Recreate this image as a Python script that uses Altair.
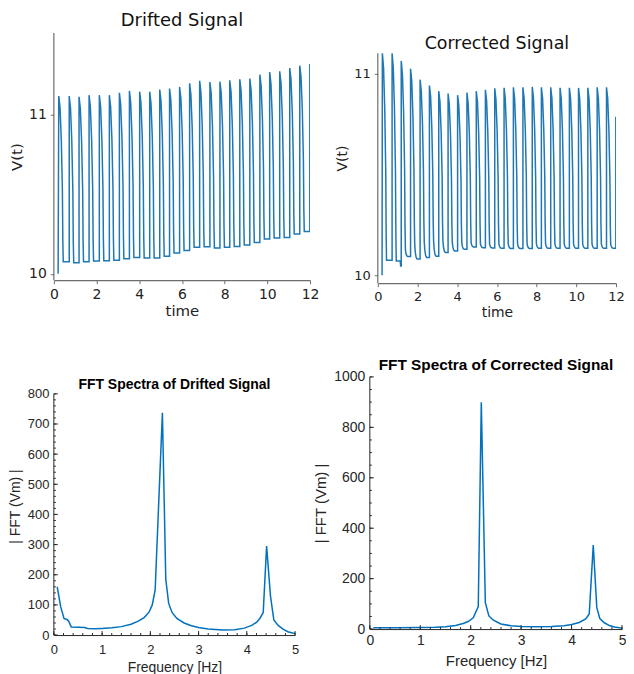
import altair as alt
import pandas as pd

# ---------------- data ----------------
# rise (spike onset) times, shared by both time traces; last entry is the final rise at the end
rise_t = [0.23, 0.72, 1.18, 1.65, 2.13, 2.60, 3.07, 3.54, 4.02, 4.49, 4.96, 5.42, 5.89,
          6.36, 6.83, 7.31, 7.78, 8.24, 8.71, 9.18, 9.65, 10.11, 10.58, 11.05, 11.52, 11.99]

drift_start = (0.20, 10.0)
drift_peak = [11.115, 11.115, 11.11, 11.12, 11.12, 11.12, 11.135, 11.147, 11.142, 11.142, 11.156,
              11.162, 11.172, 11.195, 11.21, 11.203, 11.205, 11.214, 11.22, 11.224, 11.249, 11.265,
              11.27, 11.29, 11.305, 11.315]
drift_base = [10.075, 10.069, 10.075, 10.08, 10.082, 10.085, 10.094, 10.102, 10.1, 10.1, 10.11,
              10.13, 10.146, 10.166, 10.17, 10.162, 10.166, 10.172, 10.181, 10.197, 10.218, 10.225,
              10.228, 10.249, 10.266]

corr_start = (0.215, 10.0)
corr_peak = [11.10, 11.10, 11.062, 11.023, 10.969, 10.94, 10.912, 10.9, 10.892, 10.905, 10.912,
             10.919, 10.926, 10.929, 10.931, 10.931, 10.933, 10.931, 10.931, 10.929, 10.929, 10.928,
             10.929, 10.931, 10.931, 10.785]
corr_knee = [10.074, 10.07, 10.125, 10.15, 10.165, 10.17, 10.17, 10.165, 10.16, 10.16, 10.155,
             10.155, 10.155, 10.155, 10.155, 10.155, 10.155, 10.155, 10.155, 10.155, 10.155, 10.155,
             10.155, 10.155, 10.155]
corr_base = [10.074, 10.07, 10.092, 10.08, 10.088, 10.094, 10.112, 10.12, 10.128, 10.14, 10.136,
             10.135, 10.133, 10.132, 10.132, 10.132, 10.133, 10.133, 10.133, 10.133, 10.133, 10.133,
             10.133, 10.133, 10.133]
corr_end = [10.074, 10.045, 10.092, 10.08, 10.088, 10.094, 10.112, 10.12, 10.128, 10.14, 10.136,
            10.135, 10.133, 10.132, 10.132, 10.132, 10.133, 10.133, 10.133, 10.133, 10.133, 10.133,
            10.133, 10.133, 10.133]

# shape of one spike (offset after onset, fraction of height)
decay_dt = [0.0, 0.06, 0.12, 0.17, 0.19, 0.21]
decay_frac = [1.0, 0.93, 0.73, 0.43, 0.13, 0.0]
foot_dt = [0.03, 0.07, 0.12]
foot_frac = [0.45, 0.12, 0.0]

# FFT spectra
drift_f = [0.07, 0.14, 0.21, 0.28, 0.31, 0.36, 0.5, 0.64, 0.7, 0.85, 1.0, 1.2, 1.4, 1.6, 1.75,
           1.87, 1.97, 2.04, 2.1, 2.25, 2.32, 2.38, 2.45, 2.55, 2.7, 2.85, 3.0, 3.2, 3.5, 3.75,
           3.95, 4.1, 4.2, 4.27, 4.34, 4.41, 4.49, 4.56, 4.65, 4.75, 4.85, 4.95, 5.0]
drift_a = [160, 95, 55, 51, 45, 27, 26, 25, 22, 21, 22, 24, 28, 36, 46,
           58, 75, 100, 150, 737, 185, 105, 75, 55, 40, 31, 25, 20, 17, 18,
           23, 32, 42, 55, 75, 295, 130, 50, 32, 20, 11, 7, 6]
corr_f = [0.07, 0.5, 1.0, 1.3, 1.5, 1.7, 1.85, 1.95, 2.05, 2.15, 2.21, 2.29, 2.36, 2.45, 2.6,
          2.8, 3.0, 3.3, 3.6, 3.85, 4.0, 4.15, 4.28, 4.35, 4.43, 4.5, 4.56, 4.65, 4.75, 4.85,
          4.95, 5.0]
corr_a = [5, 5, 6, 7, 9, 14, 22, 30, 45, 89, 899, 105, 52, 35, 20,
          13, 10, 9, 10, 13, 18, 26, 40, 60, 333, 85, 42, 25, 14, 8,
          5, 4]


def build_trace(start, peaks, knees, bases, ends):
    pts = [start]
    n = len(bases)
    for i in range(n):
        t0, p, k, b = rise_t[i], peaks[i], knees[i], bases[i]
        for dt, fr in zip(decay_dt, decay_frac):
            pts.append((t0 + dt, k + fr * (p - k)))
        tk = t0 + decay_dt[-1]
        if k != b:
            for dt, fr in zip(foot_dt, foot_frac):
                pts.append((tk + dt, b + fr * (k - b)))
        t1 = rise_t[i + 1]
        if ends[i] != b:
            pts.append((t1 - 0.05, b))
            pts.append((t1 - 0.03, ends[i]))
        pts.append((t1, ends[i]))
    pts.append((rise_t[-1], peaks[-1]))
    return pd.DataFrame({"t": [q[0] for q in pts], "v": [q[1] for q in pts],
                         "i": list(range(len(pts)))})


df_drift = build_trace(drift_start, drift_peak, drift_base, drift_base, drift_base)
df_corr = build_trace(corr_start, corr_peak, corr_knee, corr_base, corr_end)

MPL_FONT = "DejaVu Sans"
ML_FONT = "Liberation Sans"
MPL_AX = "#6e6e6e"


def time_panel(df, ydom, yspan, w, h, title, tsize, lsize, ticksz, toff=2, tdy=0):
    """yspan: the part of the y range where the left spine is drawn"""
    axis_common = dict(grid=False, domainColor=MPL_AX, domainWidth=1.2, tickColor=MPL_AX,
                       tickSize=3.5, tickWidth=1, labelFont=MPL_FONT, labelFontSize=ticksz,
                       labelColor="#222222", titleFont=MPL_FONT, titleFontSize=lsize,
                       titleFontWeight="normal", titleColor="#222222", labelFlush=False,
                       labelOverlap=False, labelPadding=4)
    xaxis = alt.Axis(values=[0, 2, 4, 6, 8, 10, 12], title="time", titlePadding=2, **axis_common)
    yaxis = alt.Axis(values=[10, 11], format="d", title="V(t)", titlePadding=4,
                     **dict(axis_common, domain=False))
    xs = alt.Scale(domain=[0, 12], nice=False, zero=False)
    ys = alt.Scale(domain=ydom, nice=False, zero=False)
    line = alt.Chart(df).mark_line(color="#1f77b4", strokeWidth=1.5, clip=True).encode(
        x=alt.X("t:Q", scale=xs, axis=xaxis),
        y=alt.Y("v:Q", scale=ys, axis=yaxis),
        order="i:Q",
    )
    spine = alt.Chart(pd.DataFrame({"v": [yspan[0]], "v2": [yspan[1]]})).mark_rule(
        color=MPL_AX, strokeWidth=1.2).encode(
        x=alt.value(0), y=alt.Y("v:Q", scale=ys, axis=yaxis), y2="v2:Q")
    tparams = alt.TitleParams(title, font=MPL_FONT, fontSize=tsize, fontWeight="normal",
                              anchor="middle", color="#111111", offset=toff, dy=tdy)
    return alt.layer(line, spine).properties(width=w, height=h, title=tparams)


def fft_panel(freq, amp, ydom, ytop, ymajor, yminor, w, h, title, tsize, lsize, ticksz,
              toff=5, tdy=0, lpad=5, tpad=5):
    xmajor = [0, 1, 2, 3, 4, 5]
    xminor = [round(0.2 * k, 1) for k in range(26)]
    df = pd.DataFrame({"f": freq, "a": amp})
    xs = alt.Scale(domain=[0, 5], nice=False, zero=False)
    ys = alt.Scale(domain=ydom, nice=False, zero=False)
    axis_common = dict(grid=False, ticks=False, domainColor="#262626", domainWidth=1,
                       labelFont=ML_FONT, labelFontSize=ticksz, labelColor="#262626",
                       titleFont=ML_FONT, titleFontSize=lsize, titleFontWeight="normal",
                       titleColor="#262626", labelFlush=False, labelOverlap=False, format="d")
    xaxis = alt.Axis(values=xmajor, title="Frequency [Hz]", titlePadding=tpad, labelPadding=lpad,
                     **axis_common)
    yaxis = alt.Axis(values=ymajor, title="| FFT (Vm) |", titlePadding=5, labelPadding=5,
                     **dict(axis_common, domain=False))
    line = alt.Chart(df).mark_line(color="#0072BD", strokeWidth=1.5).encode(
        x=alt.X("f:Q", scale=xs, axis=xaxis),
        y=alt.Y("a:Q", scale=ys, axis=yaxis),
    )
    spine = alt.Chart(pd.DataFrame({"a": [0], "a2": [ytop]})).mark_rule(
        color="#262626", strokeWidth=1).encode(
        x=alt.value(0), y=alt.Y("a:Q", scale=ys, axis=yaxis), y2="a2:Q")
    ymaj = alt.Chart(pd.DataFrame({"a": ymajor})).mark_rule(color="#262626", strokeWidth=1).encode(
        y=alt.Y("a:Q", scale=ys, axis=yaxis), x=alt.value(0), x2=alt.value(4))
    ymin = alt.Chart(pd.DataFrame({"a": yminor})).mark_rule(color="#262626", strokeWidth=1).encode(
        y=alt.Y("a:Q", scale=ys, axis=yaxis), x=alt.value(0), x2=alt.value(2))
    xmaj = alt.Chart(pd.DataFrame({"f": xmajor})).mark_rule(color="#262626", strokeWidth=1).encode(
        x=alt.X("f:Q", scale=xs, axis=xaxis), y=alt.value(h), y2=alt.value(h - 4))
    xmin = alt.Chart(pd.DataFrame({"f": xminor})).mark_rule(color="#262626", strokeWidth=1).encode(
        x=alt.X("f:Q", scale=xs, axis=xaxis), y=alt.value(h), y2=alt.value(h - 2))
    tparams = alt.TitleParams(title, font=ML_FONT, fontSize=tsize, fontWeight="bold",
                              anchor="middle", color="#000000", offset=toff, dy=tdy)
    return alt.layer(line, spine, ymin, ymaj, xmin, xmaj).properties(width=w, height=h, title=tparams)


# top row: plot tops aligned; the corrected panel's range is extended upward to sit lower
tl = time_panel(df_drift, [9.96, 11.51], [9.96, 11.51], 257, 248, "Drifted Signal", 18, 15, 14,
                toff=2)
tr = time_panel(df_corr, [9.96, 11.2003], [9.96, 11.10], 239, 251, "Corrected Signal", 17.5, 14, 13,
                toff=2, tdy=22)

bl = fft_panel(drift_f, drift_a, [0, 856.2], 800, list(range(0, 801, 100)), list(range(0, 801, 20)),
               242, 259, "FFT Spectra of Drifted Signal", 14, 14, 13, toff=5, tdy=20,
               lpad=8, tpad=5)
br = fft_panel(corr_f, corr_a, [0, 1000], 1000, list(range(0, 1001, 200)), list(range(0, 1001, 50)),
               253, 253, "FFT Spectra of Corrected Signal", 15.4, 15, 14, toff=5, tdy=8,
               lpad=4, tpad=7)

top = alt.hconcat(tl, tr, spacing=16)
bottom = alt.hconcat(bl, br, spacing=14)

chart = alt.vconcat(top, bottom, spacing=37).properties(
    padding={"left": 0, "top": 3, "right": 0, "bottom": 5}, background="white"
).configure_view(strokeWidth=0, strokeOpacity=0)

chart.save("out.html", embed_options={"renderer": "svg", "actions": False})
